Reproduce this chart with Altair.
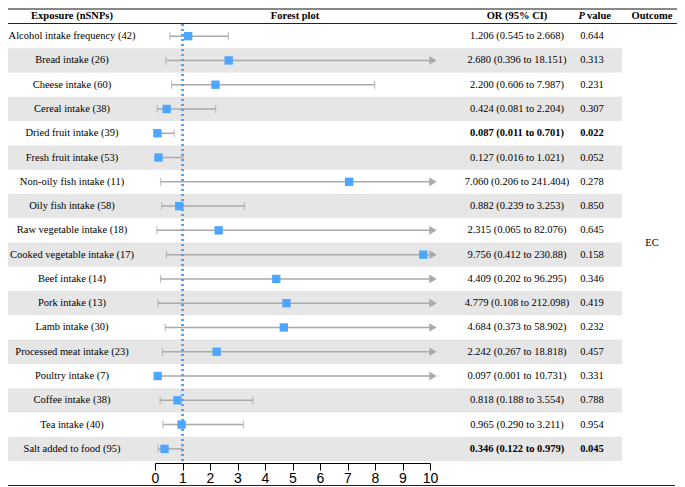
import altair as alt
import pandas as pd

exposures = ["Alcohol intake frequency", "Bread intake", "Cheese intake", "Cereal intake",
             "Dried fruit intake", "Fresh fruit intake", "Non-oily fish intake", "Oily fish intake",
             "Raw vegetable intake", "Cooked vegetable intake", "Beef intake", "Pork intake",
             "Lamb intake", "Processed meat intake", "Poultry intake", "Coffee intake",
             "Tea intake", "Salt added to food"]
nsnps = [42, 26, 60, 38, 39, 53, 11, 58, 18, 17, 14, 13, 30, 23, 7, 38, 40, 95]
or_str = ["1.206", "2.680", "2.200", "0.424", "0.087", "0.127", "7.060", "0.882", "2.315",
          "9.756", "4.409", "4.779", "4.684", "2.242", "0.097", "0.818", "0.965", "0.346"]
lo_str = ["0.545", "0.396", "0.606", "0.081", "0.011", "0.016", "0.206", "0.239", "0.065",
          "0.412", "0.202", "0.108", "0.373", "0.267", "0.001", "0.188", "0.290", "0.122"]
hi_str = ["2.668", "18.151", "7.987", "2.204", "0.701", "1.021", "241.404", "3.253", "82.076",
          "230.88", "96.295", "212.098", "58.902", "18.818", "10.731", "3.554", "3.211", "0.979"]
p_str = ["0.644", "0.313", "0.231", "0.307", "0.022", "0.052", "0.278", "0.850", "0.645",
         "0.158", "0.346", "0.419", "0.232", "0.457", "0.331", "0.788", "0.954", "0.045"]
x_ticks = [0, 1, 2, 3, 4, 5, 6, 7, 8, 9, 10]
outcome = "EC"
x_max = 10

labels = [f"{e} ({n})" for e, n in zip(exposures, nsnps)]
df = pd.DataFrame({
    "label": labels,
    "idx": list(range(len(labels))),
    "or": [float(v) for v in or_str],
    "lo": [float(v) for v in lo_str],
    "hi": [float(v) for v in hi_str],
    "or_text": [f"{o} ({l} to {h})" for o, l, h in zip(or_str, lo_str, hi_str)],
    "p_text": p_str,
})
df["hi_clip"] = df["hi"].clip(upper=x_max)
df["arrow"] = df["hi"] > x_max
df["bold"] = df["p_text"].astype(float) < 0.05
df["shade"] = df["idx"] % 2 == 1

W, H = 275, 437
SERIF = "Liberation Serif"
FS = 10.5
GRAY = "#aaaaaa"
BLUE = "#4da6ff"

yenc = alt.Y("label:N", sort=labels, axis=None,
             scale=alt.Scale(paddingInner=0, paddingOuter=0))
xscale = alt.Scale(domain=[0, x_max], nice=False, zero=False)
xaxis = alt.Axis(values=x_ticks, title=None, grid=False, offset=2,
                 domainColor="black", tickColor="black", tickSize=7,
                 labelFont="Liberation Sans", labelFontSize=14,
                 labelColor="black", labelPadding=1, domainWidth=1, tickWidth=1,
                 labelOverlap=False, labelFlush=False, format="d")


def xf(field):
    return alt.X(field, scale=xscale, axis=xaxis, title=None)


base = alt.Chart(df)

shade = base.transform_filter("datum.shade").mark_rect(color="#e6e6e6").encode(
    x=alt.value(-147), x2=alt.value(467), y=yenc)

ci = base.mark_rule(color=GRAY, strokeWidth=1.5).encode(
    x=xf("lo:Q"), x2="hi_clip:Q", y=yenc)

cap_lo = base.mark_tick(color=GRAY, thickness=1.2, size=8).encode(
    x=xf("lo:Q"), y=yenc)
cap_hi = base.transform_filter("!datum.arrow").mark_tick(color=GRAY, thickness=1.2, size=8).encode(
    x=xf("hi:Q"), y=yenc)
arrows = base.transform_filter("datum.arrow").mark_point(
    shape="triangle-right", filled=True, color=GRAY, size=75, opacity=1, xOffset=3).encode(
    x=xf("hi_clip:Q"), y=yenc)

ref_line = base.mark_rule(color=BLUE, strokeDash=[2, 3], strokeWidth=2).encode(
    x=alt.XDatum(1, scale=xscale, axis=xaxis, title=None), y=alt.value(0), y2=alt.value(H + 2))

squares = base.mark_square(color=BLUE, size=70, opacity=1).encode(
    x=xf("or:Q"), y=yenc)

lab = base.mark_text(font=SERIF, fontSize=FS, color="black", align="center").encode(
    x=alt.value(-83), y=yenc, text="label:N")
or_n = base.transform_filter("!datum.bold").mark_text(font=SERIF, fontSize=FS, color="black").encode(
    x=alt.value(362), y=yenc, text="or_text:N")
or_b = base.transform_filter("datum.bold").mark_text(font=SERIF, fontSize=FS, color="black",
                                                     fontWeight="bold").encode(
    x=alt.value(362), y=yenc, text="or_text:N")
p_n = base.transform_filter("!datum.bold").mark_text(font=SERIF, fontSize=FS, color="black").encode(
    x=alt.value(437), y=yenc, text="p_text:N")
p_b = base.transform_filter("datum.bold").mark_text(font=SERIF, fontSize=FS, color="black",
                                                    fontWeight="bold").encode(
    x=alt.value(437), y=yenc, text="p_text:N")

one = alt.Chart(pd.DataFrame({"o": [outcome]}))
ec = one.mark_text(font=SERIF, fontSize=FS, color="black").encode(
    x=alt.value(497), y=alt.value(H / 2), text="o:N")

headers = pd.DataFrame({
    "t": ["Exposure (nSNPs)", "Forest plot", "OR (95% CI)", "Outcome"],
    "xp": [-83, 140, 362, 497],
})
hdr_layers = []
for t, xp in zip(headers["t"], headers["xp"]):
    hdr_layers.append(
        alt.Chart(pd.DataFrame({"t": [t]})).mark_text(
            font=SERIF, fontSize=FS, fontWeight="bold", color="black", baseline="alphabetic").encode(
            x=alt.value(xp), y=alt.value(-5), text="t:N"))
hdr_p = alt.Chart(pd.DataFrame({"t": ["P"]})).mark_text(
    font=SERIF, fontSize=FS, fontWeight="bold", fontStyle="italic", color="black",
    align="right", baseline="alphabetic").encode(x=alt.value(430), y=alt.value(-5), text="t:N")
hdr_v = alt.Chart(pd.DataFrame({"t": ["value"]})).mark_text(
    font=SERIF, fontSize=FS, fontWeight="bold", color="black",
    align="left", baseline="alphabetic").encode(x=alt.value(432), y=alt.value(-5), text="t:N")

top_line = one.mark_rule(color="#888888", strokeWidth=2).encode(
    x=alt.value(-147), x2=alt.value(522), y=alt.value(-15))
hdr_line = one.mark_rule(color="#222222", strokeWidth=1).encode(
    x=alt.value(-147), x2=alt.value(522), y=alt.value(-0.5))
bot_line = one.mark_rule(color="#222222", strokeWidth=1).encode(
    x=alt.value(-147), x2=alt.value(520), y=alt.value(H + 24.5))

chart = alt.layer(
    shade, ci, cap_lo, cap_hi, arrows, ref_line, squares,
    lab, or_n, or_b, p_n, p_b, ec, *hdr_layers, hdr_p, hdr_v,
    top_line, hdr_line, bot_line,
).properties(
    width=W, height=H,
    autosize=alt.AutoSizeParams(type="none"),
    padding={"left": 147, "top": 16, "right": 247, "bottom": 26},
).configure_view(stroke=None)

chart.save("out.html", embed_options={"renderer": "svg", "actions": False})
